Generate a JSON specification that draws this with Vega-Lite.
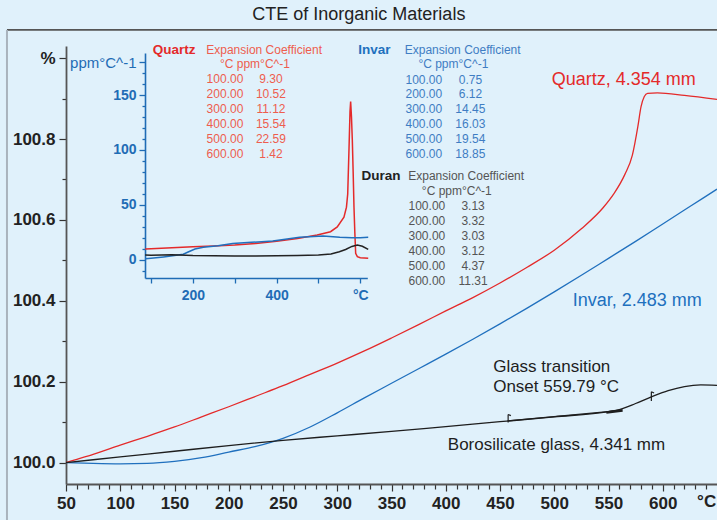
{
  "$schema": "https://vega.github.io/schema/vega-lite/v6.json",
  "width": 651,
  "height": 438,
  "autosize": {"type": "none"},
  "padding": {"left": 66, "top": 46, "right": 0, "bottom": 36},
  "background": "#e0f1fb",
  "config": {"view": {"stroke": null}, "font": "Liberation Sans", "axis": {"grid": false}},
  "datasets": {
    "main": [
      {"series": "Quartz", "T": 50, "v": 100.000},
      {"series": "Quartz", "T": 60, "v": 100.008},
      {"series": "Quartz", "T": 75, "v": 100.020},
      {"series": "Quartz", "T": 100, "v": 100.043},
      {"series": "Quartz", "T": 125, "v": 100.065},
      {"series": "Quartz", "T": 150, "v": 100.088},
      {"series": "Quartz", "T": 175, "v": 100.113},
      {"series": "Quartz", "T": 200, "v": 100.138},
      {"series": "Quartz", "T": 225, "v": 100.164},
      {"series": "Quartz", "T": 250, "v": 100.190},
      {"series": "Quartz", "T": 275, "v": 100.218},
      {"series": "Quartz", "T": 300, "v": 100.246},
      {"series": "Quartz", "T": 325, "v": 100.276},
      {"series": "Quartz", "T": 350, "v": 100.308},
      {"series": "Quartz", "T": 375, "v": 100.341},
      {"series": "Quartz", "T": 400, "v": 100.375},
      {"series": "Quartz", "T": 425, "v": 100.408},
      {"series": "Quartz", "T": 450, "v": 100.444},
      {"series": "Quartz", "T": 475, "v": 100.483},
      {"series": "Quartz", "T": 500, "v": 100.525},
      {"series": "Quartz", "T": 525, "v": 100.578},
      {"series": "Quartz", "T": 545, "v": 100.630},
      {"series": "Quartz", "T": 555, "v": 100.665},
      {"series": "Quartz", "T": 565, "v": 100.712},
      {"series": "Quartz", "T": 572, "v": 100.760},
      {"series": "Quartz", "T": 577, "v": 100.830},
      {"series": "Quartz", "T": 580, "v": 100.880},
      {"series": "Quartz", "T": 583, "v": 100.905},
      {"series": "Quartz", "T": 586, "v": 100.913},
      {"series": "Quartz", "T": 595, "v": 100.914},
      {"series": "Quartz", "T": 620, "v": 100.908},
      {"series": "Quartz", "T": 650, "v": 100.898},
      {"series": "Invar", "T": 50, "v": 100.000},
      {"series": "Invar", "T": 75, "v": 99.998},
      {"series": "Invar", "T": 100, "v": 99.997},
      {"series": "Invar", "T": 125, "v": 99.998},
      {"series": "Invar", "T": 150, "v": 100.003},
      {"series": "Invar", "T": 175, "v": 100.012},
      {"series": "Invar", "T": 200, "v": 100.026},
      {"series": "Invar", "T": 225, "v": 100.040},
      {"series": "Invar", "T": 250, "v": 100.060},
      {"series": "Invar", "T": 275, "v": 100.088},
      {"series": "Invar", "T": 300, "v": 100.123},
      {"series": "Invar", "T": 325, "v": 100.160},
      {"series": "Invar", "T": 350, "v": 100.196},
      {"series": "Invar", "T": 375, "v": 100.232},
      {"series": "Invar", "T": 400, "v": 100.268},
      {"series": "Invar", "T": 425, "v": 100.305},
      {"series": "Invar", "T": 450, "v": 100.343},
      {"series": "Invar", "T": 475, "v": 100.382},
      {"series": "Invar", "T": 500, "v": 100.422},
      {"series": "Invar", "T": 525, "v": 100.463},
      {"series": "Invar", "T": 550, "v": 100.505},
      {"series": "Invar", "T": 575, "v": 100.547},
      {"series": "Invar", "T": 600, "v": 100.590},
      {"series": "Invar", "T": 625, "v": 100.633},
      {"series": "Invar", "T": 650, "v": 100.676},
      {"series": "Borosilicate glass", "T": 50, "v": 100.000},
      {"series": "Borosilicate glass", "T": 100, "v": 100.014},
      {"series": "Borosilicate glass", "T": 150, "v": 100.028},
      {"series": "Borosilicate glass", "T": 200, "v": 100.042},
      {"series": "Borosilicate glass", "T": 250, "v": 100.055},
      {"series": "Borosilicate glass", "T": 300, "v": 100.066},
      {"series": "Borosilicate glass", "T": 350, "v": 100.077},
      {"series": "Borosilicate glass", "T": 400, "v": 100.089},
      {"series": "Borosilicate glass", "T": 450, "v": 100.101},
      {"series": "Borosilicate glass", "T": 500, "v": 100.113},
      {"series": "Borosilicate glass", "T": 550, "v": 100.126},
      {"series": "Borosilicate glass", "T": 560, "v": 100.131},
      {"series": "Borosilicate glass", "T": 575, "v": 100.146},
      {"series": "Borosilicate glass", "T": 590, "v": 100.163},
      {"series": "Borosilicate glass", "T": 605, "v": 100.178},
      {"series": "Borosilicate glass", "T": 620, "v": 100.188},
      {"series": "Borosilicate glass", "T": 635, "v": 100.192},
      {"series": "Borosilicate glass", "T": 650, "v": 100.191}
    ],
    "inset": [
      {"series": "Quartz", "T": 86, "v": 10.0},
      {"series": "Quartz", "T": 100, "v": 10.2},
      {"series": "Quartz", "T": 150, "v": 11.0},
      {"series": "Quartz", "T": 200, "v": 12.0},
      {"series": "Quartz", "T": 250, "v": 12.8},
      {"series": "Quartz", "T": 300, "v": 13.6},
      {"series": "Quartz", "T": 350, "v": 15.0},
      {"series": "Quartz", "T": 400, "v": 17.0},
      {"series": "Quartz", "T": 450, "v": 19.5},
      {"series": "Quartz", "T": 497, "v": 22.7},
      {"series": "Quartz", "T": 529, "v": 25.7},
      {"series": "Quartz", "T": 545, "v": 30},
      {"series": "Quartz", "T": 561, "v": 39},
      {"series": "Quartz", "T": 567, "v": 48},
      {"series": "Quartz", "T": 570, "v": 60},
      {"series": "Quartz", "T": 573, "v": 100},
      {"series": "Quartz", "T": 575.5, "v": 135},
      {"series": "Quartz", "T": 577, "v": 144},
      {"series": "Quartz", "T": 579, "v": 130},
      {"series": "Quartz", "T": 581, "v": 109},
      {"series": "Quartz", "T": 583, "v": 80},
      {"series": "Quartz", "T": 585, "v": 48},
      {"series": "Quartz", "T": 587, "v": 25},
      {"series": "Quartz", "T": 589, "v": 6},
      {"series": "Quartz", "T": 593, "v": 3},
      {"series": "Quartz", "T": 600, "v": 2},
      {"series": "Quartz", "T": 619, "v": 1.5},
      {"series": "Invar", "T": 86, "v": 1.0},
      {"series": "Invar", "T": 100, "v": 1.5},
      {"series": "Invar", "T": 130, "v": 2.8},
      {"series": "Invar", "T": 160, "v": 4.2},
      {"series": "Invar", "T": 177, "v": 5.2},
      {"series": "Invar", "T": 190, "v": 7.5},
      {"series": "Invar", "T": 205, "v": 10},
      {"series": "Invar", "T": 225, "v": 11.5},
      {"series": "Invar", "T": 260, "v": 13},
      {"series": "Invar", "T": 295, "v": 15},
      {"series": "Invar", "T": 340, "v": 16},
      {"series": "Invar", "T": 391, "v": 17.3},
      {"series": "Invar", "T": 455, "v": 20.6},
      {"series": "Invar", "T": 511, "v": 21.8},
      {"series": "Invar", "T": 551, "v": 20.6},
      {"series": "Invar", "T": 580, "v": 20.3},
      {"series": "Invar", "T": 600, "v": 20.2},
      {"series": "Invar", "T": 619, "v": 20.6},
      {"series": "Duran", "T": 86, "v": 4.5},
      {"series": "Duran", "T": 100, "v": 4.4},
      {"series": "Duran", "T": 150, "v": 4.7},
      {"series": "Duran", "T": 200, "v": 4.0},
      {"series": "Duran", "T": 250, "v": 3.8},
      {"series": "Duran", "T": 300, "v": 3.7},
      {"series": "Duran", "T": 350, "v": 3.5},
      {"series": "Duran", "T": 400, "v": 3.8},
      {"series": "Duran", "T": 450, "v": 4.0},
      {"series": "Duran", "T": 500, "v": 4.5},
      {"series": "Duran", "T": 530, "v": 5.5},
      {"series": "Duran", "T": 550, "v": 7.5},
      {"series": "Duran", "T": 565, "v": 9.5},
      {"series": "Duran", "T": 580, "v": 12.3},
      {"series": "Duran", "T": 593, "v": 13.6},
      {"series": "Duran", "T": 605, "v": 12.5},
      {"series": "Duran", "T": 619, "v": 9.7}
    ],
    "markers": [
      {"T": 457.5, "T2": 457.5, "v": 100.099, "v2": 100.119},
      {"T": 457.5, "T2": 460, "v": 100.119, "v2": 100.116},
      {"T": 589.5, "T2": 589.5, "v": 100.152, "v2": 100.175},
      {"T": 589.5, "T2": 592, "v": 100.175, "v2": 100.172},
      {"T": 457, "T2": 562, "v": 100.103, "v2": 100.129}
    ],
    "arrow": [
      {"T": 548, "T2": 563, "v": 100.124, "v2": 100.129}
    ],
    "frameTop": [{"T": -4.4, "T2": 700, "v": 101.0697}],
    "frameLeft": [{"T": -4.4, "v": 101.0697, "v2": 99.8}],
    "title": [{"label": "CTE of Inorganic Materials", "T": 319.9, "v": 101.1068}],
    "annotCenter": [
      {"label": "Quartz, 4.354 mm", "series": "Quartz", "T": 564.1, "v": 100.946},
      {"label": "Invar, 2.483 mm", "series": "Invar", "T": 576.5, "v": 100.4}
    ],
    "annotLeft": [
      {"label": "Glass transition", "series": "Borosilicate glass", "T": 443.7, "v": 100.2373},
      {"label": "Onset 559.79 °C", "series": "Borosilicate glass", "T": 443.7, "v": 100.1879},
      {"label": "Borosilicate glass, 4.341 mm", "series": "Borosilicate glass", "T": 401.9, "v": 100.0438}
    ],
    "tableHeads": [
      {"label": "Quartz", "series": "Quartz", "T": 129.9, "v": 101.0203},
      {"label": "Invar", "series": "Invar", "T": 319.3, "v": 101.0203},
      {"label": "Duran", "series": "Duran", "T": 322.4, "v": 100.7095}
    ],
    "tableBody": [
      {"label": "Expansion Coefficient", "table": "Quartz table", "T": 232.6, "v": 101.0203},
      {"label": "°C ppm°C^-1", "table": "Quartz table", "T": 224.1, "v": 100.985},
      {"label": "100.00", "table": "Quartz table", "T": 196.5, "v": 100.9478},
      {"label": "9.30", "table": "Quartz table", "T": 238.9, "v": 100.9478},
      {"label": "200.00", "table": "Quartz table", "T": 196.5, "v": 100.9107},
      {"label": "10.52", "table": "Quartz table", "T": 238.9, "v": 100.9107},
      {"label": "300.00", "table": "Quartz table", "T": 196.5, "v": 100.8737},
      {"label": "11.12", "table": "Quartz table", "T": 238.9, "v": 100.8737},
      {"label": "400.00", "table": "Quartz table", "T": 196.5, "v": 100.8366},
      {"label": "15.54", "table": "Quartz table", "T": 238.9, "v": 100.8366},
      {"label": "500.00", "table": "Quartz table", "T": 196.5, "v": 100.7995},
      {"label": "22.59", "table": "Quartz table", "T": 238.9, "v": 100.7995},
      {"label": "600.00", "table": "Quartz table", "T": 196.5, "v": 100.7624},
      {"label": "1.42", "table": "Quartz table", "T": 238.9, "v": 100.7624},
      {"label": "Expansion Coefficient", "table": "Invar table", "T": 415.6, "v": 101.0203},
      {"label": "°C ppm°C^-1", "table": "Invar table", "T": 407.0, "v": 100.985},
      {"label": "100.00", "table": "Invar table", "T": 379.8, "v": 100.946},
      {"label": "0.75", "table": "Invar table", "T": 422.7, "v": 100.946},
      {"label": "200.00", "table": "Invar table", "T": 379.8, "v": 100.9107},
      {"label": "6.12", "table": "Invar table", "T": 422.7, "v": 100.9107},
      {"label": "300.00", "table": "Invar table", "T": 379.8, "v": 100.8737},
      {"label": "14.45", "table": "Invar table", "T": 422.7, "v": 100.8737},
      {"label": "400.00", "table": "Invar table", "T": 379.8, "v": 100.8366},
      {"label": "16.03", "table": "Invar table", "T": 422.7, "v": 100.8366},
      {"label": "500.00", "table": "Invar table", "T": 379.8, "v": 100.7995},
      {"label": "19.54", "table": "Invar table", "T": 422.7, "v": 100.7995},
      {"label": "600.00", "table": "Invar table", "T": 379.8, "v": 100.7624},
      {"label": "18.85", "table": "Invar table", "T": 422.7, "v": 100.7624},
      {"label": "Expansion Coefficient", "table": "Duran table", "T": 418.8, "v": 100.7095},
      {"label": "°C ppm°C^-1", "table": "Duran table", "T": 410.2, "v": 100.6717},
      {"label": "100.00", "table": "Duran table", "T": 382.6, "v": 100.6354},
      {"label": "3.13", "table": "Duran table", "T": 425.2, "v": 100.6354},
      {"label": "200.00", "table": "Duran table", "T": 382.6, "v": 100.5983},
      {"label": "3.32", "table": "Duran table", "T": 425.2, "v": 100.5983},
      {"label": "300.00", "table": "Duran table", "T": 382.6, "v": 100.5612},
      {"label": "3.03", "table": "Duran table", "T": 425.2, "v": 100.5612},
      {"label": "400.00", "table": "Duran table", "T": 382.6, "v": 100.5241},
      {"label": "3.12", "table": "Duran table", "T": 425.2, "v": 100.5241},
      {"label": "500.00", "table": "Duran table", "T": 382.6, "v": 100.487},
      {"label": "4.37", "table": "Duran table", "T": 425.2, "v": 100.487},
      {"label": "600.00", "table": "Duran table", "T": 382.6, "v": 100.4499},
      {"label": "11.31", "table": "Duran table", "T": 425.2, "v": 100.4499}
    ]
  },
  "resolve": {"scale": {"x": "independent", "y": "independent"}},
  "layer": [
    {
      "data": {"name": "frameTop"},
      "mark": {"type": "rule", "color": "#555555", "strokeWidth": 1.8},
      "encoding": {
        "x": {"field": "T", "type": "quantitative", "scale": {"domain": [50, 650], "nice": false, "zero": false}, "axis": null},
        "x2": {"field": "T2"},
        "y": {"field": "v", "type": "quantitative", "scale": {"domain": [99.947, 101.03], "nice": false, "zero": false}, "axis": null}
      }
    },
    {
      "data": {"name": "frameLeft"},
      "mark": {"type": "rule", "color": "#a9b3bd", "strokeWidth": 2},
      "encoding": {
        "x": {"field": "T", "type": "quantitative", "scale": {"domain": [50, 650], "nice": false, "zero": false}, "axis": null},
        "y": {"field": "v", "type": "quantitative", "scale": {"domain": [99.947, 101.03], "nice": false, "zero": false}, "axis": null},
        "y2": {"field": "v2"}
      }
    },
    {
      "data": {"name": "main"},
      "mark": {"type": "line", "strokeWidth": 1.3, "interpolate": "monotone"},
      "encoding": {
        "x": {
          "field": "T", "type": "quantitative",
          "scale": {"domain": [50, 650], "nice": false, "zero": false},
          "axis": {
            "orient": "bottom", "title": null,
            "values": [50,60,70,80,90,100,110,120,130,140,150,160,170,180,190,200,210,220,230,240,250,260,270,280,290,300,310,320,330,340,350,360,370,380,390,400,410,420,430,440,450,460,470,480,490,500,510,520,530,540,550,560,570,580,590,600,610,620,630,640],
            "labelExpr": "datum.value == 640 ? '°C' : (datum.value % 50 == 0 ? datum.label : '')",
            "format": "d",
            "tickSize": {"condition": {"test": "datum.value % 50 == 0", "value": 7}, "value": 5},
            "tickColor": "#333333", "tickWidth": 1.2,
            "domainColor": "#555555", "domainWidth": 1.8,
            "labelFontSize": 17, "labelColor": "#222222", "labelPadding": 4, "labelFontWeight": "bold",
            "labelFlush": false, "labelOverlap": false, "labelFont": "Liberation Sans"
          }
        },
        "y": {
          "field": "v", "type": "quantitative",
          "scale": {"domain": [99.947, 101.03], "nice": false, "zero": false},
          "axis": {
            "orient": "left", "title": null,
            "values": [100.0,100.1,100.2,100.3,100.4,100.5,100.6,100.7,100.8,100.9,101.0],
            "labelExpr": "abs(datum.value - 101) < 0.001 ? '%' : (round(datum.value*10) % 2 == 0 ? format(datum.value, '.1f') : '')",
            "tickSize": {"condition": {"test": "round(datum.value*10) % 2 == 0", "value": 7}, "value": 4},
            "tickColor": "#333333", "tickWidth": 1.2,
            "domainColor": "#555555", "domainWidth": 1.8,
            "labelFontSize": 17, "labelColor": "#222222", "labelPadding": 4, "labelFontWeight": "bold",
            "labelFlush": false, "labelOverlap": false, "labelFont": "Liberation Sans"
          }
        },
        "color": {
          "field": "series", "type": "nominal", "legend": null,
          "scale": {
            "domain": ["Quartz", "Invar", "Borosilicate glass", "Duran", "Quartz table", "Invar table", "Duran table"],
            "range": ["#e42a2a", "#2070be", "#1e1e1e", "#222222", "#ee5d4e", "#3f7dc3", "#555555"]
          }
        }
      }
    },
    {
      "data": {"name": "markers"},
      "mark": {"type": "rule", "color": "#1e1e1e", "strokeWidth": 1.2},
      "encoding": {
        "x": {"field": "T", "type": "quantitative", "scale": {"domain": [50, 650], "nice": false, "zero": false}, "axis": null},
        "x2": {"field": "T2"},
        "y": {"field": "v", "type": "quantitative", "scale": {"domain": [99.947, 101.03], "nice": false, "zero": false}, "axis": null},
        "y2": {"field": "v2"}
      }
    },
    {
      "data": {"name": "arrow"},
      "mark": {"type": "rule", "color": "#1e1e1e", "strokeWidth": 2.6},
      "encoding": {
        "x": {"field": "T", "type": "quantitative", "scale": {"domain": [50, 650], "nice": false, "zero": false}, "axis": null},
        "x2": {"field": "T2"},
        "y": {"field": "v", "type": "quantitative", "scale": {"domain": [99.947, 101.03], "nice": false, "zero": false}, "axis": null},
        "y2": {"field": "v2"}
      }
    },
    {
      "data": {"name": "inset"},
      "mark": {"type": "line", "strokeWidth": 1.5, "interpolate": "linear"},
      "encoding": {
        "x": {
          "field": "T", "type": "quantitative",
          "scale": {"domain": [85.6, 616.8], "range": [79, 301.3], "nice": false, "zero": false},
          "axis": {
            "orient": "bottom", "offset": -206, "title": null,
            "values": [100, 200, 300, 400, 500, 600],
            "labelExpr": "datum.value == 600 ? '°C' : (datum.value % 200 == 0 ? datum.label : '')",
            "tickSize": 5, "tickColor": "#1f6cb5", "tickWidth": 1.3,
            "domainColor": "#1f6cb5", "domainWidth": 1.6,
            "labelFontSize": 14, "labelColor": "#1f6cb5", "labelPadding": 5, "labelFontWeight": "bold",
            "labelFlush": false, "labelOverlap": false, "labelFont": "Liberation Sans"
          }
        },
        "y": {
          "field": "v", "type": "quantitative",
          "scale": {"domain": [-16.4, 188.2], "range": [232, 7], "nice": false, "zero": false},
          "axis": {
            "orient": "left", "offset": -79, "title": null,
            "values": [-10,0,10,20,30,40,50,60,70,80,90,100,110,120,130,140,150,160,170,180],
            "labelExpr": "datum.value == 180 ? 'ppm°C^-1' : (datum.value % 50 == 0 ? datum.label : '')",
            "tickSize": {"condition": {"test": "datum.value % 50 == 0 || datum.value == 180", "value": 6}, "value": 3},
            "tickColor": "#1f6cb5", "tickWidth": 1.3,
            "domainColor": "#1f6cb5", "domainWidth": 1.6,
            "labelFontSize": {"condition": {"test": "datum.value == 180", "value": 15}, "value": 14},
            "labelFontWeight": {"condition": {"test": "datum.value == 180", "value": "normal"}, "value": "bold"},
            "labelColor": "#1f6cb5", "labelPadding": 3,
            "labelFlush": false, "labelOverlap": false, "labelFont": "Liberation Sans"
          }
        },
        "color": {
          "field": "series", "type": "nominal", "legend": null,
          "scale": {
            "domain": ["Quartz", "Invar", "Borosilicate glass", "Duran", "Quartz table", "Invar table", "Duran table"],
            "range": ["#e42a2a", "#2070be", "#1e1e1e", "#222222", "#ee5d4e", "#3f7dc3", "#555555"]
          }
        }
      }
    },
    {
      "data": {"name": "title"},
      "mark": {"type": "text", "fontSize": 18, "align": "center", "baseline": "middle", "color": "#222222", "font": "Liberation Sans"},
      "encoding": {
        "x": {"field": "T", "type": "quantitative", "scale": {"domain": [50, 650], "nice": false, "zero": false}, "axis": null},
        "y": {"field": "v", "type": "quantitative", "scale": {"domain": [99.947, 101.03], "nice": false, "zero": false}, "axis": null},
        "text": {"field": "label"}
      }
    },
    {
      "data": {"name": "annotCenter"},
      "mark": {"type": "text", "fontSize": 18, "align": "center", "baseline": "middle", "font": "Liberation Sans"},
      "encoding": {
        "x": {"field": "T", "type": "quantitative", "scale": {"domain": [50, 650], "nice": false, "zero": false}, "axis": null},
        "y": {"field": "v", "type": "quantitative", "scale": {"domain": [99.947, 101.03], "nice": false, "zero": false}, "axis": null},
        "text": {"field": "label"},
        "color": {
          "field": "series", "type": "nominal", "legend": null,
          "scale": {
            "domain": ["Quartz", "Invar", "Borosilicate glass", "Duran", "Quartz table", "Invar table", "Duran table"],
            "range": ["#e42a2a", "#2070be", "#1e1e1e", "#222222", "#ee5d4e", "#3f7dc3", "#555555"]
          }
        }
      }
    },
    {
      "data": {"name": "annotLeft"},
      "mark": {"type": "text", "fontSize": 17, "align": "left", "baseline": "middle", "font": "Liberation Sans"},
      "encoding": {
        "x": {"field": "T", "type": "quantitative", "scale": {"domain": [50, 650], "nice": false, "zero": false}, "axis": null},
        "y": {"field": "v", "type": "quantitative", "scale": {"domain": [99.947, 101.03], "nice": false, "zero": false}, "axis": null},
        "text": {"field": "label"},
        "color": {
          "field": "series", "type": "nominal", "legend": null,
          "scale": {
            "domain": ["Quartz", "Invar", "Borosilicate glass", "Duran", "Quartz table", "Invar table", "Duran table"],
            "range": ["#e42a2a", "#2070be", "#1e1e1e", "#222222", "#ee5d4e", "#3f7dc3", "#555555"]
          }
        }
      }
    },
    {
      "data": {"name": "tableHeads"},
      "mark": {"type": "text", "fontSize": 13.5, "fontWeight": "bold", "align": "left", "baseline": "middle", "font": "Liberation Sans"},
      "encoding": {
        "x": {"field": "T", "type": "quantitative", "scale": {"domain": [50, 650], "nice": false, "zero": false}, "axis": null},
        "y": {"field": "v", "type": "quantitative", "scale": {"domain": [99.947, 101.03], "nice": false, "zero": false}, "axis": null},
        "text": {"field": "label"},
        "color": {
          "field": "series", "type": "nominal", "legend": null,
          "scale": {
            "domain": ["Quartz", "Invar", "Borosilicate glass", "Duran", "Quartz table", "Invar table", "Duran table"],
            "range": ["#e42a2a", "#2070be", "#1e1e1e", "#222222", "#ee5d4e", "#3f7dc3", "#555555"]
          }
        }
      }
    },
    {
      "data": {"name": "tableBody"},
      "mark": {"type": "text", "fontSize": 12, "align": "center", "baseline": "middle", "font": "Liberation Sans"},
      "encoding": {
        "x": {"field": "T", "type": "quantitative", "scale": {"domain": [50, 650], "nice": false, "zero": false}, "axis": null},
        "y": {"field": "v", "type": "quantitative", "scale": {"domain": [99.947, 101.03], "nice": false, "zero": false}, "axis": null},
        "text": {"field": "label"},
        "color": {
          "field": "table", "type": "nominal", "legend": null,
          "scale": {
            "domain": ["Quartz", "Invar", "Borosilicate glass", "Duran", "Quartz table", "Invar table", "Duran table"],
            "range": ["#e42a2a", "#2070be", "#1e1e1e", "#222222", "#ee5d4e", "#3f7dc3", "#555555"]
          }
        }
      }
    }
  ]
}
